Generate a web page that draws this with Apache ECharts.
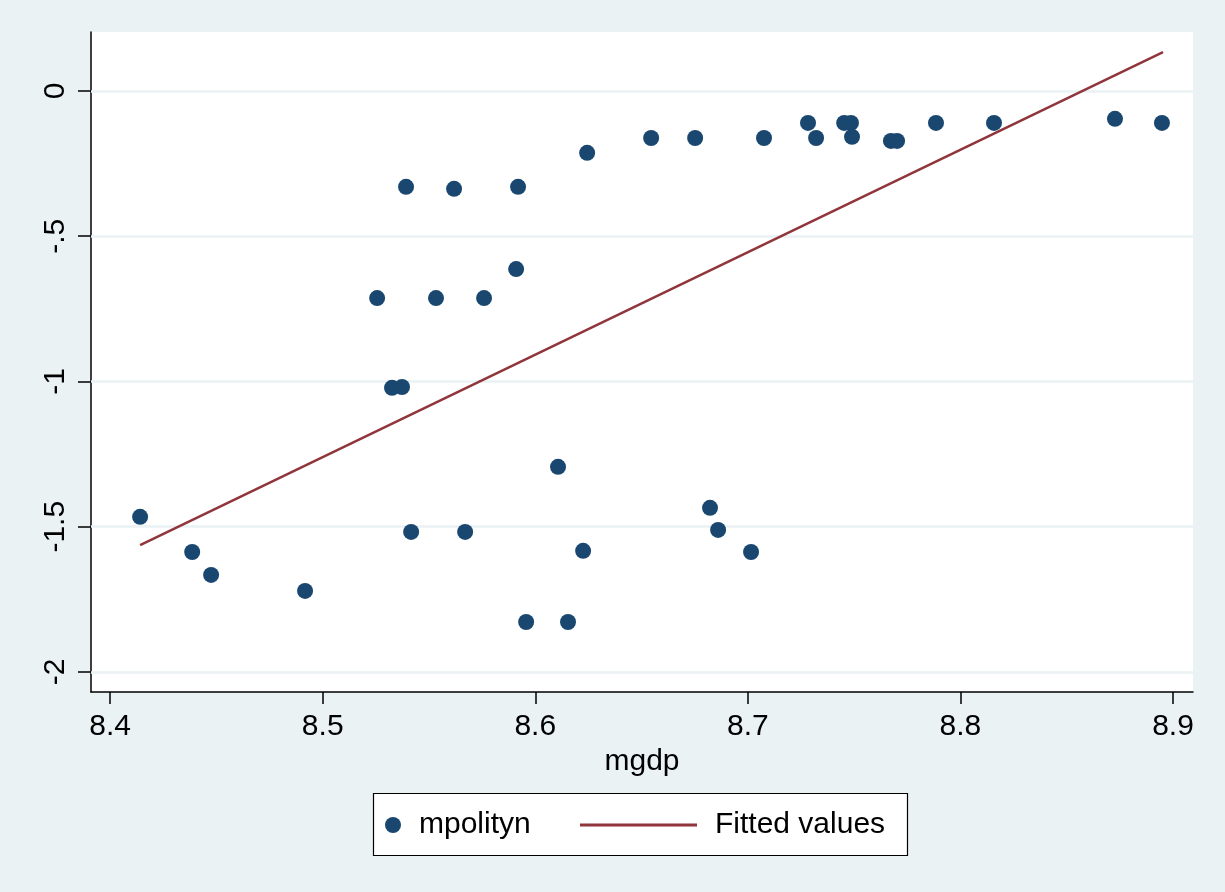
<!DOCTYPE html>
<html>
<head>
<meta charset="utf-8">
<script src="https://cdn.jsdelivr.net/npm/echarts@6/dist/echarts.min.js"></script>
<style>
  html, body { margin: 0; padding: 0; background: #EAF2F3; }
  #chart { width: 1225px; height: 892px; }
</style>
</head>
<body>
<div id="chart"></div>
<script>
// Data
const mgdp = [8.4141, 8.4386, 8.4475, 8.4917, 8.5256, 8.5326, 8.5373, 8.5392, 8.5416, 8.5533,
  8.5618, 8.5670, 8.5759, 8.5910, 8.5919, 8.5957, 8.6107, 8.6154, 8.6225, 8.6244,
  8.6545, 8.6752, 8.6822, 8.6860, 8.7015, 8.7076, 8.7283, 8.7321, 8.7453, 8.7485,
  8.7490, 8.7673, 8.7702, 8.7885, 8.8158, 8.8727, 8.8948];
const mpolityn = [-1.466, -1.587, -1.666, -1.721, -0.713, -1.022, -1.019, -0.330, -1.518, -0.713,
  -0.337, -1.518, -0.713, -0.613, -0.330, -1.828, -1.294, -1.828, -1.583, -0.213,
  -0.162, -0.162, -1.435, -1.511, -1.587, -0.162, -0.110, -0.162, -0.110, -0.110,
  -0.158, -0.172, -0.172, -0.110, -0.110, -0.096, -0.110];
const fittedX = [8.4141, 8.8953];
const fittedY = [-1.563, 0.134];
const xTicks = [8.4, 8.5, 8.6, 8.7, 8.8, 8.9];
const yTicks = [-2, -1.5, -1, -0.5, 0];

const scatterData = mgdp.map((x, i) => [x, mpolityn[i]]);
const lineData = fittedX.map((x, i) => [x, fittedY[i]]);

const FONT = 'Liberation Sans, Arial, sans-serif';
const chart = echarts.init(document.getElementById('chart'));
chart.setOption({
  backgroundColor: '#EAF2F3',
  animation: false,
  textStyle: { fontFamily: FONT, color: '#000' },
  grid: {
    left: 91, top: 32, right: 32, bottom: 200,
    show: true, backgroundColor: '#ffffff', borderWidth: 0
  },
  xAxis: {
    type: 'value', min: 8.391, max: 8.9094,
    name: 'mgdp', nameLocation: 'middle', nameGap: 52,
    nameTextStyle: { fontSize: 30, color: '#000', fontFamily: FONT },
    axisLine: { show: true, onZero: false, lineStyle: { color: '#000', width: 1.5 } },
    axisTick: { show: true, length: 12, customValues: xTicks, lineStyle: { color: '#000', width: 1.5 } },
    axisLabel: { customValues: xTicks, fontSize: 30, color: '#000', margin: 20, fontFamily: FONT,
      formatter: v => v.toFixed(1) },
    splitLine: { show: false }
  },
  yAxis: {
    type: 'value', min: -2.069, max: 0.203,
    axisLine: { show: true, onZero: false, lineStyle: { color: '#000', width: 1.5 } },
    axisTick: { show: true, length: 13, customValues: yTicks, lineStyle: { color: '#000', width: 1.5 } },
    axisLabel: { customValues: yTicks, fontSize: 30, color: '#000', margin: 20, rotate: 90, fontFamily: FONT,
      formatter: v => String(v).replace('0.', '.') },
    splitLine: { show: false }
  },
  legend: [
    {
      data: [{ name: 'mpolityn', icon: 'circle' }],
      left: 385, top: 810, padding: 0, itemWidth: 16, itemHeight: 16,
      textStyle: { fontSize: 30, color: '#000', fontFamily: FONT, padding: [0, 0, 0, 13] },
      selectedMode: false
    },
    {
      data: [{ name: 'Fitted values', icon: 'rect', itemStyle: { color: '#90353B' } }],
      left: 580, top: 810, padding: 0, itemWidth: 117, itemHeight: 3,
      textStyle: { fontSize: 30, color: '#000', fontFamily: FONT, padding: [0, 0, 0, 13] },
      selectedMode: false
    }
  ],
  graphic: [{
    type: 'rect', z: -10,
    shape: { x: 373.5, y: 793.5, width: 534, height: 62 },
    style: { fill: '#ffffff', stroke: '#000', lineWidth: 1.2 }
  }],
  series: [
    {
      name: 'grid', type: 'scatter', data: [], z: 1, silent: true,
      markLine: {
        z: 1, silent: true, symbol: 'none', animation: false,
        label: { show: false },
        lineStyle: { color: '#EAF2F3', width: 2.5, type: 'solid' },
        data: yTicks.map(v => ({ yAxis: v }))
      }
    },
    {
      name: 'mpolityn', type: 'scatter', data: scatterData, z: 2,
      symbol: 'circle', symbolSize: 16,
      itemStyle: { color: '#1A476F', opacity: 1 }
    },
    {
      name: 'Fitted values', type: 'line', data: lineData, z: 3,
      symbol: 'none', showSymbol: false,
      lineStyle: { color: '#90353B', width: 2.5 },
      itemStyle: { color: '#90353B' }
    }
  ]
});
</script>
</body>
</html>
